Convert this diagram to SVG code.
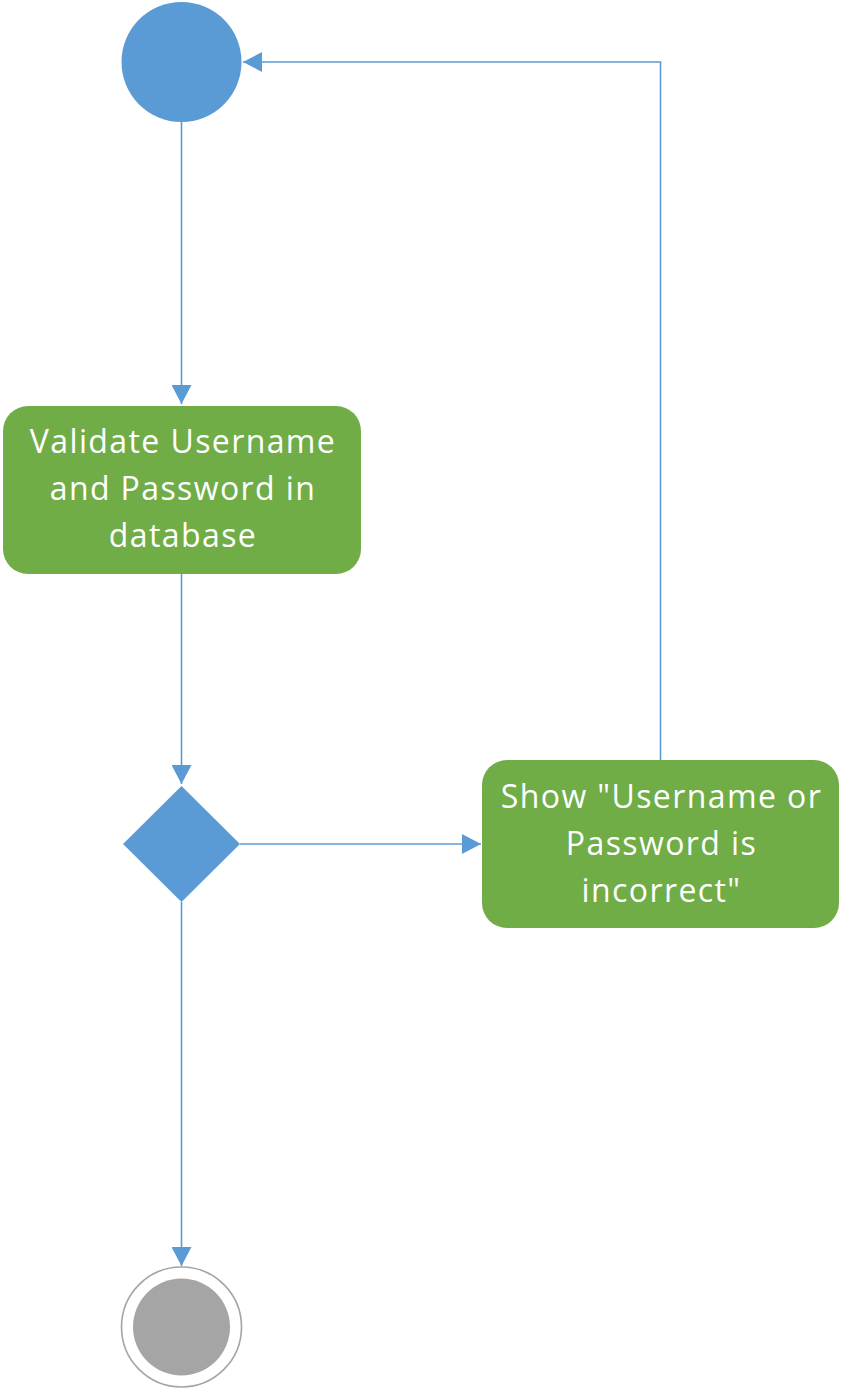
<svg xmlns="http://www.w3.org/2000/svg" width="853" height="1389" viewBox="0 0 853 1389">
<style>
.edge{fill:none;stroke:#5B9BD5;stroke-width:1.6}
.act{fill:#70AD47}
.lbl{font-family:"Open Sans","Liberation Sans",sans-serif;font-size:32px;fill:#ffffff;text-anchor:middle;letter-spacing:1.4px}
.blue{fill:#5B9BD5}
</style>
<defs>
<marker id="arr" markerUnits="userSpaceOnUse" markerWidth="19" markerHeight="20" refX="19" refY="10" orient="auto" viewBox="0 0 19 20">
<path d="M0,0 L19,10 L0,20 z" fill="#5B9BD5"/>
</marker>
</defs>
<rect width="853" height="1389" fill="#ffffff"/>
<g id="connectors">
<line class="edge" x1="181.5" y1="122" x2="181.5" y2="404" marker-end="url(#arr)"/>
<line class="edge" x1="181.5" y1="574" x2="181.5" y2="784" marker-end="url(#arr)"/>
<line class="edge" x1="240" y1="844" x2="481" y2="844" marker-end="url(#arr)"/>
<polyline class="edge" points="660.5,760 660.5,62 243,62" marker-end="url(#arr)"/>
<line class="edge" x1="181.5" y1="902" x2="181.5" y2="1266" marker-end="url(#arr)"/>
</g>
<g id="start">
<circle class="blue" cx="181.5" cy="62" r="60"/>
</g>
<g id="validate">
<rect class="act" x="3" y="406" width="358" height="168" rx="25" ry="25"/>
<text class="lbl" x="183" y="453">Validate Username</text>
<text class="lbl" x="183" y="500">and Password in</text>
<text class="lbl" x="183" y="547">database</text>
</g>
<g id="decision">
<polygon class="blue" points="181.5,786 240,844 181.5,902 123,844"/>
</g>
<g id="error">
<rect class="act" x="482" y="760" width="357" height="168" rx="25" ry="25"/>
<text class="lbl" x="661.5" y="808">Show "Username or</text>
<text class="lbl" x="661.5" y="855">Password is</text>
<text class="lbl" x="661.5" y="902">incorrect"</text>
</g>
<g id="end">
<circle cx="181.5" cy="1327" r="60" fill="#ffffff" stroke="#A5A5A5" stroke-width="1.6"/>
<circle cx="181.5" cy="1327" r="48.5" fill="#A5A5A5"/>
</g>
</svg>
